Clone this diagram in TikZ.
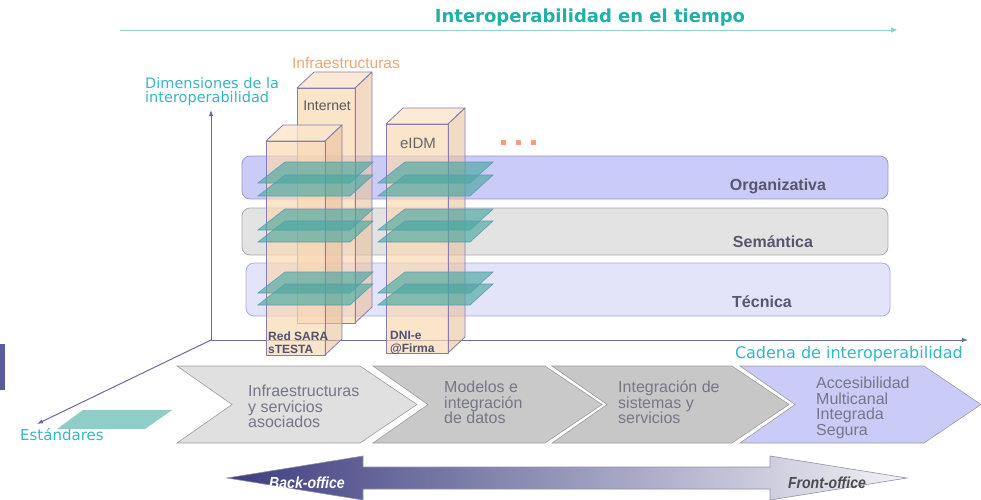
\documentclass[tikz,border=0pt]{standalone}
\usepackage{fontspec}
\setmainfont{Liberation Sans}
\newfontfamily\labelfont{DejaVu Sans}
\newfontfamily\officefont{Liberation Sans}[FakeStretch=0.88]
\usetikzlibrary{arrows.meta}
\definecolor{titlec}{HTML}{22AFA8}
\definecolor{timec}{HTML}{8AD3D0}
\definecolor{tealc}{HTML}{35B7C2}
\definecolor{axisc}{HTML}{6B6B95}
\definecolor{orgfill}{HTML}{CBCBF7}
\definecolor{orgline}{HTML}{9A9AD2}
\definecolor{semfill}{HTML}{E3E3E3}
\definecolor{semline}{HTML}{ABABAB}
\definecolor{tecfill}{HTML}{E3E3F9}
\definecolor{tecline}{HTML}{AAAADA}
\definecolor{bandtxt}{HTML}{56566F}
\definecolor{peach}{HTML}{F8D8B4}
\definecolor{peachtop}{HTML}{FBE5CC}
\definecolor{peachside}{HTML}{E8C39E}
\definecolor{boxline}{HTML}{857FAE}
\definecolor{boxtxt}{HTML}{52526E}
\definecolor{planec}{HTML}{4AA7A0}
\definecolor{planeline}{HTML}{5C9CB4}
\definecolor{stdfill}{HTML}{8FCDC9}
\definecolor{infrac}{HTML}{F2A672}
\definecolor{dotc}{HTML}{F09E7C}
\definecolor{chevA}{HTML}{E0E0E0}
\definecolor{chevB}{HTML}{C9C9C9}
\definecolor{chevC}{HTML}{C7C7C7}
\definecolor{chevD}{HTML}{CBCBF7}
\definecolor{chevline}{HTML}{9C9C9C}
\definecolor{chevtxt}{HTML}{76768A}
\definecolor{officeL}{HTML}{3D3D80}
\definecolor{officeM}{HTML}{B2B2CA}
\definecolor{officeR}{HTML}{F2F2F6}
\definecolor{officeline}{HTML}{9090A8}
\definecolor{barc}{HTML}{5B5B96}

\begin{document}
\begin{tikzpicture}[x=1pt,y=-1pt]
    \tikzset{axis/.style={draw=axisc,line width=1pt,-{Latex[length=6pt,width=4.5pt]}}}
    \tikzset{band/.style={rounded corners=8pt,line width=0.8pt}}
    \tikzset{bandlabel/.style={font=\bfseries\fontsize{16}{16}\selectfont,text=bandtxt,inner sep=0pt,anchor=base}}
    \tikzset{cuboid/.style={draw=boxline,line width=0.8pt,line join=round}}
    \tikzset{boxlabel/.style={font=\bfseries\fontsize{12}{13}\selectfont,text=boxtxt,align=left,anchor=north west,inner sep=0pt}}
    \tikzset{plane/.style={fill=planec,fill opacity=0.65,draw=planeline,line width=0.6pt}}
    \tikzset{chevron/.style={draw=chevline,line width=0.6pt}}
    \tikzset{chevtext/.style={font=\fontsize{16}{15.5}\selectfont,text=chevtxt,align=left,anchor=north west,inner sep=0pt}}
    \tikzset{tealtext/.style={font=\labelfont\fontsize{15}{12.5}\selectfont,text=tealc,inner sep=0pt}}
    \useasboundingbox (0,0) rectangle (981,499);

    \node[font=\labelfont\bfseries\fontsize{18}{18}\selectfont,text=titlec,inner sep=0pt,anchor=base] (title) at (590,22) {Interoperabilidad en el tiempo};
    \coordinate (timeS) at (120,30);
    \coordinate (timeE) at (897,30);
    \draw[draw=timec,line width=1pt,-{Triangle[length=6pt,width=5pt]}] (timeS) -- (timeE);

    \draw[band,draw=orgline,fill=orgfill] (242,156) rectangle (888,199);
    \draw[band,draw=semline,fill=semfill] (242,208) rectangle (888,255);
    \draw[band,draw=tecline,fill=tecfill] (246,263) rectangle (890,316);
    \node[bandlabel] (org) at (778,190) {Organizativa};
    \node[bandlabel] (sem) at (773,247) {Semántica};
    \node[bandlabel] (tec) at (762,307) {Técnica};

    \coordinate (orig) at (211,340);
    \coordinate (dimtop) at (211,110);
    \coordinate (chainend) at (968,340);
    \coordinate (stdend) at (37,424);
    \draw[axis] (orig) -- (dimtop);
    \draw[axis] (orig) -- (chainend);
    \draw[axis] (orig) -- (stdend);

    \foreach \bx/\by/\bw/\bb in {297/88/58/323,266/141/59/355,386/124/62/353}{
        \filldraw[cuboid,fill=peachtop,fill opacity=0.8] (\bx,\by) -- ++(17,-16) -- ++(\bw,0) -- ++(-17,16) -- cycle;
        \filldraw[cuboid,fill=peachside,fill opacity=0.6] (\bx+\bw,\by) -- ++(17,-16) -- (\bx+\bw+17,\bb-16) -- (\bx+\bw,\bb) -- cycle;
        \filldraw[cuboid,fill=peach,fill opacity=0.7] (\bx,\by) rectangle (\bx+\bw,\bb);
    }

    \foreach \px in {258,378}
        \foreach \py in {162,175,209,221,272,284}
            \filldraw[plane] (\px,\py+21) -- ++(92,0) -- ++(23,-21) -- ++(-88,0) -- cycle;

    \node[font=\fontsize{14}{14}\selectfont,text=black!65,inner sep=0pt,anchor=base] (internet) at (327,110) {Internet};
    \node[font=\fontsize{15}{15}\selectfont,text=black!60,inner sep=0pt,anchor=base] (eidm) at (418,148) {eIDM};
    \node[boxlabel] (sara) at (268,332) {Red SARA\\sTESTA};
    \node[boxlabel] (dnie) at (390,331) {DNI-e\\@Firma};
    \node[font=\fontsize{15.5}{15.5}\selectfont,text=infrac,inner sep=0pt,anchor=base] (infra) at (346,68) {Infraestructuras};
    \foreach \dx in {503,518,533}
        \fill[dotc] (\dx-2.5,139.5) rectangle ++(5,5);

    \node[tealtext,font=\labelfont\fontsize{14.5}{14}\selectfont,align=left,anchor=north west] (dim) at (145,77) {Dimensiones de la\\interoperabilidad};
    \node[tealtext,font=\labelfont\fontsize{16}{16}\selectfont,anchor=base east] (chain) at (963,358) {Cadena de interoperabilidad};
    \node[tealtext,anchor=base west] (std) at (20,440) {Estándares};
    \fill[stdfill] (57,429) -- (145,429) -- (172,410) -- (83,410) -- cycle;
    \fill[barc] (0,344) rectangle (5,390);

    \foreach \cx/\cw/\cc in {177/183/chevA,373/172/chevB,552/180/chevC,740/184/chevD}
        \filldraw[chevron,fill=\cc] (\cx,366) -- ++(\cw,0) -- ++(57,38.5) -- ++(-57,38.5) -- ++(-\cw,0) -- ++(55,-38.5) -- cycle;
    \node[chevtext] (infraserv) at (248,385) {Infraestructuras\\y servicios\\asociados};
    \node[chevtext] (modelos) at (444,381) {Modelos e\\integración\\de datos};
    \node[chevtext] (integra) at (618,381) {Integración de\\sistemas y\\servicios};
    \node[chevtext] (acceso) at (816,377) {Accesibilidad\\Multicanal\\Integrada\\Segura};

    \shadedraw[left color=officeL,middle color=officeM,right color=officeR,draw=officeline,line width=0.6pt]
        (227,478) -- (363,456) -- (363,467) -- (770,467) -- (770,456) -- (907,478)
        -- (770,500) -- (770,489) -- (363,489) -- (363,500) -- cycle;
    \node[font=\officefont\bfseries\itshape\fontsize{16}{16}\selectfont,text=white,inner sep=0pt] (back) at (307,483) {Back-office};
    \node[font=\officefont\bfseries\itshape\fontsize{16}{16}\selectfont,text=black!70,inner sep=0pt] (front) at (827,483) {Front-office};
\end{tikzpicture}
\end{document}
